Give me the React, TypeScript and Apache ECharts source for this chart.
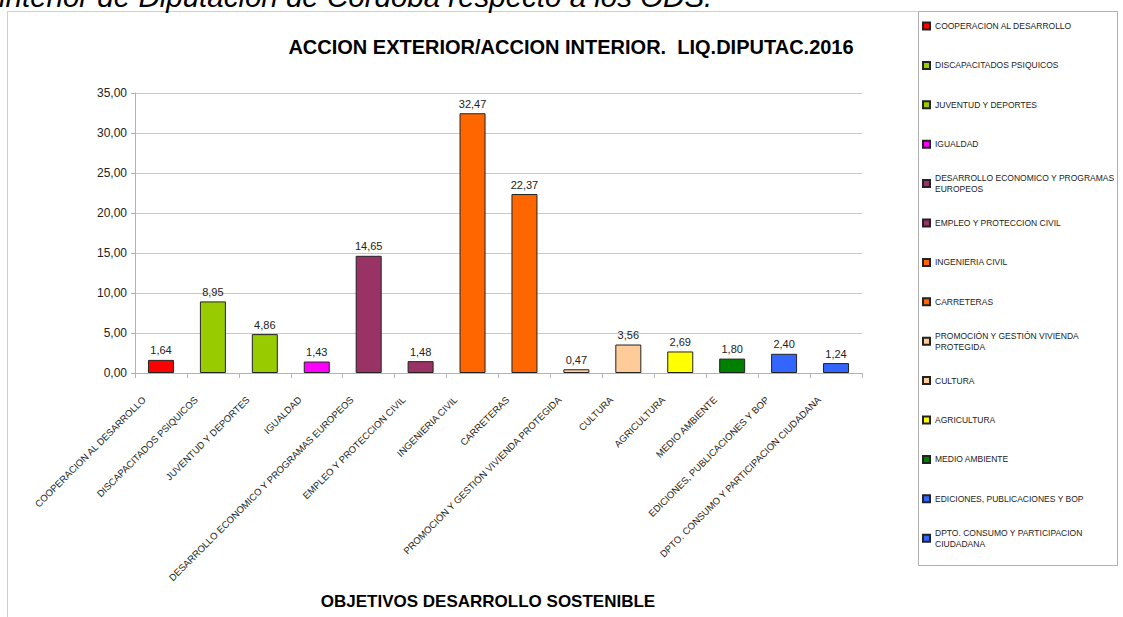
import React, { useEffect, useRef } from "react";
import * as echarts from "echarts";

const categories = [
  "COOPERACION AL DESARROLLO",
  "DISCAPACITADOS PSIQUICOS",
  "JUVENTUD Y DEPORTES",
  "IGUALDAD",
  "DESARROLLO ECONOMICO Y PROGRAMAS EUROPEOS",
  "EMPLEO Y PROTECCION CIVIL",
  "INGENIERIA CIVIL",
  "CARRETERAS",
  "PROMOCIÓN Y GESTIÓN VIVIENDA PROTEGIDA",
  "CULTURA",
  "AGRICULTURA",
  "MEDIO AMBIENTE",
  "EDICIONES, PUBLICACIONES Y BOP",
  "DPTO. CONSUMO Y PARTICIPACION CIUDADANA",
];

const legendLabels = [
  "COOPERACION AL DESARROLLO",
  "DISCAPACITADOS PSIQUICOS",
  "JUVENTUD Y DEPORTES",
  "IGUALDAD",
  "DESARROLLO ECONOMICO Y PROGRAMAS\nEUROPEOS",
  "EMPLEO Y PROTECCION CIVIL",
  "INGENIERIA CIVIL",
  "CARRETERAS",
  "PROMOCIÓN Y GESTIÓN VIVIENDA\nPROTEGIDA",
  "CULTURA",
  "AGRICULTURA",
  "MEDIO AMBIENTE",
  "EDICIONES, PUBLICACIONES Y BOP",
  "DPTO. CONSUMO Y PARTICIPACION\nCIUDADANA",
];

const values = [1.64, 8.95, 4.86, 1.43, 14.65, 1.48, 32.47, 22.37, 0.47, 3.56, 2.69, 1.8, 2.4, 1.24];

const colors = [
  "#ff0000",
  "#99cc00",
  "#99cc00",
  "#ff00ff",
  "#993366",
  "#993366",
  "#ff6600",
  "#ff6600",
  "#ffcc99",
  "#ffcc99",
  "#ffff00",
  "#008000",
  "#3366ff",
  "#3366ff",
];

const yMin = 0;
const yMax = 35;
const yStep = 5;

const chartTitle = "ACCION EXTERIOR/ACCION INTERIOR.  LIQ.DIPUTAC.2016";
const xAxisTitle = "OBJETIVOS DESARROLLO SOSTENIBLE";
const headerText = "interior de Diputación de Córdoba respecto a los ODS.";

const FONT = '"Liberation Sans", Arial, sans-serif';
const fmt = (v: number) => Number(v).toFixed(2).replace(".", ",");

export default function App() {
  const ref = useRef<HTMLDivElement>(null);
  useEffect(() => {
    if (!ref.current) return;
    const chart = echarts.init(ref.current, null, { renderer: "svg" });

    const legends = categories.map((name, i) => {
      const twoLine = legendLabels[i].includes("\n");
      const cy = 26 + i * 39.4;
      return {
        data: [name],
        orient: "vertical",
        left: 922,
        top: twoLine ? cy - 15.5 : cy - 5.5,
        padding: 0,
        itemWidth: 7,
        itemHeight: 7,
        icon: "rect",
        selectedMode: false,
        formatter: legendLabels[i],
        textStyle: {
          fontFamily: FONT,
          fontSize: 8.5,
          lineHeight: 11,
          color: "#222",
          padding: twoLine ? [9, 0, 0, 0] : 0,
        },
      };
    });

    const series = categories.map((name, i) => ({
      type: "bar",
      name,
      data: values.map((v, j) => (j === i ? v : "-")),
      barWidth: 26,
      barGap: "-100%",
      itemStyle: { color: colors[i], borderColor: "#222", borderWidth: 1 },
      label: {
        show: true,
        position: "top",
        distance: 4,
        fontFamily: FONT,
        fontSize: 11,
        color: "#222",
        formatter: (p: any) => fmt(p.value),
      },
    }));

    chart.setOption({
      animation: false,
      backgroundColor: "#fff",
      textStyle: { fontFamily: FONT },
      grid: { left: 135, right: 261, top: 93, bottom: 244 },
      legend: legends,
      xAxis: {
        type: "category",
        data: categories,
        axisLine: { show: true, lineStyle: { color: "#b3b3b3", width: 1 } },
        axisTick: { show: true, length: 5, lineStyle: { color: "#b3b3b3" } },
        axisLabel: {
          interval: 0,
          rotate: 45,
          margin: 8,
          padding: [0, 24, 0, 0],
          fontFamily: FONT,
          fontSize: 9.5,
          color: "#222",
        },
        splitLine: { show: false },
      },
      yAxis: {
        type: "value",
        min: yMin,
        max: yMax,
        interval: yStep,
        axisLine: { show: true, lineStyle: { color: "#b3b3b3", width: 1 } },
        axisTick: { show: true, length: 4, lineStyle: { color: "#b3b3b3" } },
        axisLabel: {
          margin: 8,
          fontFamily: FONT,
          fontSize: 12,
          color: "#222",
          formatter: (v: number) => fmt(v),
        },
        splitLine: { show: true, lineStyle: { color: "#c8c8c8", width: 1 } },
      },
      series,
      graphic: [
        {
          type: "line",
          silent: true,
          shape: { x1: 7.5, y1: 11.5, x2: 7.5, y2: 617 },
          style: { stroke: "#cfcfcf", lineWidth: 1 },
        },
        {
          type: "line",
          silent: true,
          shape: { x1: 7, y1: 11.5, x2: 1118, y2: 11.5 },
          style: { stroke: "#cfcfcf", lineWidth: 1 },
        },
        {
          type: "rect",
          silent: true,
          shape: { x: 918.5, y: 11.5, width: 199, height: 554 },
          style: { fill: "none", stroke: "#b0b0b0", lineWidth: 1 },
        },
        {
          type: "text",
          silent: true,
          x: -1,
          y: 11,
          style: {
            text: headerText,
            font: 'italic 29.5px "Liberation Sans", Arial, sans-serif',
            fill: "#000",
            textAlign: "left",
            textVerticalAlign: "bottom",
          },
        },
        {
          type: "text",
          silent: true,
          x: 571,
          y: 47,
          style: {
            text: chartTitle,
            font: 'bold 20px "Liberation Sans", Arial, sans-serif',
            fill: "#000",
            textAlign: "center",
            textVerticalAlign: "middle",
          },
        },
        {
          type: "text",
          silent: true,
          x: 488,
          y: 601,
          style: {
            text: xAxisTitle,
            font: 'bold 17px "Liberation Sans", Arial, sans-serif',
            fill: "#000",
            textAlign: "center",
            textVerticalAlign: "middle",
          },
        },
      ],
    });
    return () => chart.dispose();
  }, []);

  return (
    <div
      ref={ref}
      style={{ position: "absolute", left: 0, top: 0, width: 1123, height: 617, background: "#fff" }}
    />
  );
}
